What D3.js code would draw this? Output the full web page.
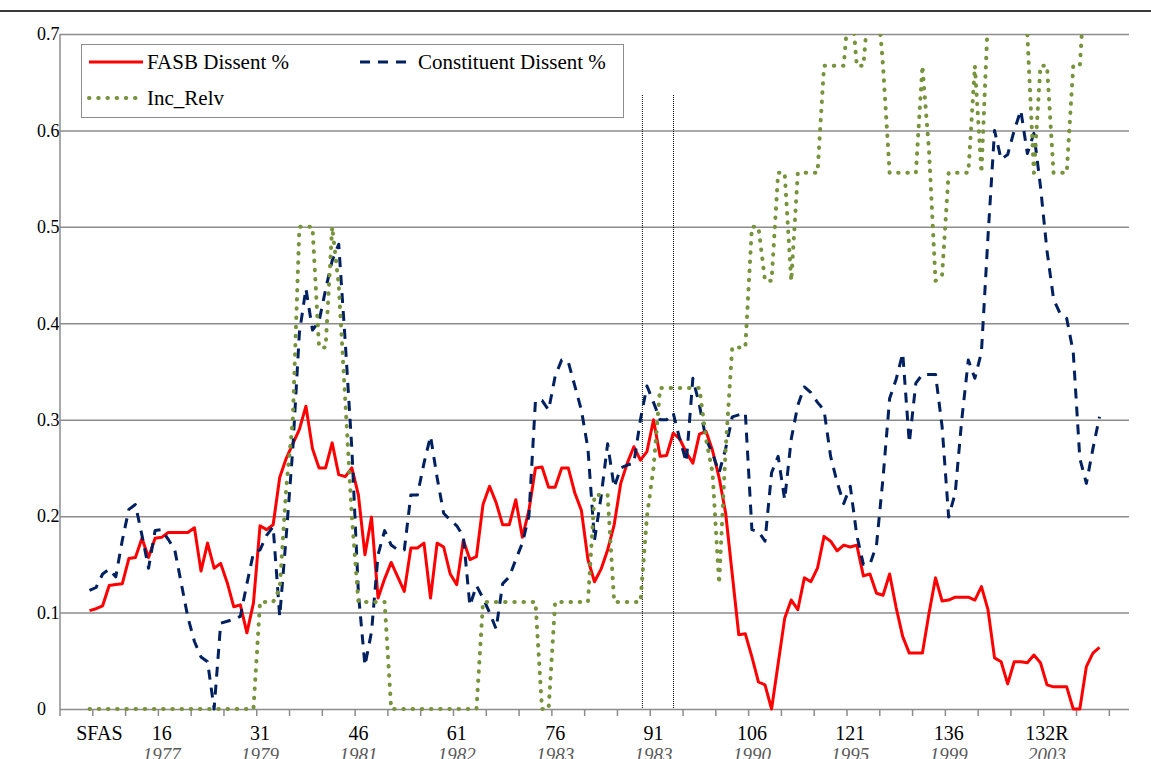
<!DOCTYPE html>
<meta charset="utf-8">
<head>
    <title>FASB and constituent dissent</title>
    <style>
        body { margin: 0; background: #fff; }
        svg text { font-family: "Liberation Serif", "Times New Roman", serif; }
    </style>
</head>
<body>
<svg width="1151" height="759"></svg>
<script src="https://d3js.org/d3.v7.min.js"></script>
<script>

    // series values, one per SFAS in order (first point sits on category 5)
    var fasbDissent = [
        0.102, 0.104, 0.107, 0.128, 0.129, 0.130, 0.156, 0.157, 0.177, 0.157,
        0.177, 0.178, 0.183, 0.183, 0.183, 0.183, 0.188, 0.143, 0.172, 0.146,
        0.151, 0.131, 0.106, 0.108, 0.079, 0.110, 0.190, 0.186, 0.191, 0.240,
        0.260, 0.275, 0.290, 0.314, 0.270, 0.250, 0.250, 0.276, 0.243, 0.241,
        0.250, 0.222, 0.160, 0.199, 0.115, 0.135, 0.152, 0.137, 0.122, 0.167,
        0.167, 0.172, 0.115, 0.172, 0.168, 0.140, 0.129, 0.175, 0.155, 0.158,
        0.212, 0.231, 0.214, 0.191, 0.191, 0.217, 0.178, 0.206, 0.250, 0.251,
        0.230, 0.230, 0.250, 0.250, 0.224, 0.206, 0.155, 0.132, 0.145, 0.165,
        0.191, 0.234, 0.255, 0.272, 0.258, 0.267, 0.300, 0.262, 0.263, 0.286,
        0.280, 0.266, 0.255, 0.285, 0.288, 0.268, 0.240, 0.203, 0.140, 0.077,
        0.078, 0.054, 0.028, 0.025, 0.000, 0.047, 0.094, 0.113, 0.103, 0.136,
        0.132, 0.146, 0.179, 0.174, 0.164, 0.170, 0.168, 0.170, 0.138, 0.140,
        0.120, 0.118, 0.140, 0.105, 0.075, 0.058, 0.058, 0.058, 0.099, 0.136,
        0.112, 0.113, 0.116, 0.116, 0.116, 0.113, 0.127, 0.103, 0.053, 0.049,
        0.026, 0.049, 0.049, 0.048, 0.056, 0.048, 0.025, 0.023, 0.023, 0.023,
        0.000, 0.000, 0.044, 0.058, 0.064
    ];

    var constituentDissent = [
        0.123, 0.126, 0.140, 0.145, 0.137, 0.175, 0.207, 0.212, 0.180, 0.146,
        0.185, 0.186, 0.176, 0.165, 0.130, 0.095, 0.070, 0.054, 0.049, 0.000,
        0.089, 0.091, 0.093, 0.096, 0.130, 0.162, 0.165, 0.180, 0.189, 0.096,
        0.180, 0.270, 0.390, 0.436, 0.393, 0.402, 0.435, 0.465, 0.482, 0.380,
        0.270, 0.120, 0.045, 0.080, 0.160, 0.185, 0.170, 0.165, 0.165, 0.222,
        0.222, 0.255, 0.283, 0.240, 0.203, 0.196, 0.190, 0.179, 0.107, 0.128,
        0.115, 0.100, 0.083, 0.130, 0.137, 0.155, 0.172, 0.200, 0.320, 0.320,
        0.310, 0.345, 0.362, 0.360, 0.335, 0.310, 0.270, 0.175, 0.220, 0.275,
        0.230, 0.250, 0.253, 0.255, 0.300, 0.335, 0.318, 0.300, 0.300, 0.307,
        0.280, 0.256, 0.343, 0.315, 0.280, 0.265, 0.245, 0.270, 0.303, 0.305,
        0.307, 0.186, 0.184, 0.174, 0.245, 0.262, 0.217, 0.280, 0.315, 0.334,
        0.328, 0.318, 0.310, 0.262, 0.235, 0.213, 0.231, 0.180, 0.150, 0.150,
        0.170, 0.240, 0.322, 0.342, 0.369, 0.276, 0.338, 0.347, 0.347, 0.347,
        0.293, 0.199, 0.224, 0.300, 0.362, 0.343, 0.370, 0.490, 0.600, 0.570,
        0.575, 0.600, 0.621, 0.576, 0.597, 0.542, 0.475, 0.425, 0.410, 0.405,
        0.370, 0.260, 0.234, 0.270, 0.303
    ];

    var incRelv = [
        0, 0, 0, 0, 0, 0, 0, 0, 0, 0,
        0, 0, 0, 0, 0, 0, 0, 0, 0, 0,
        0, 0, 0, 0, 0, 0, 0.111, 0.111, 0.111, 0.125,
        0.230, 0.300, 0.500, 0.500, 0.500, 0.375, 0.375, 0.500, 0.440, 0.320,
        0.200, 0.111, 0.111, 0.111, 0.111, 0.111, 0, 0, 0, 0,
        0, 0, 0, 0, 0, 0, 0, 0, 0, 0,
        0.111, 0.111, 0.111, 0.111, 0.111, 0.111, 0.111, 0.111, 0.111, 0,
        0, 0.111, 0.111, 0.111, 0.111, 0.111, 0.111, 0.222, 0.222, 0.222,
        0.111, 0.111, 0.111, 0.111, 0.111, 0.200, 0.250, 0.333, 0.333, 0.333,
        0.333, 0.333, 0.333, 0.333, 0.280, 0.245, 0.130, 0.270, 0.375, 0.375,
        0.375, 0.500, 0.500, 0.444, 0.444, 0.556, 0.556, 0.444, 0.556, 0.556,
        0.556, 0.556, 0.667, 0.667, 0.667, 0.667, 0.750, 0.667, 0.667, 0.750,
        0.750, 0.667, 0.556, 0.556, 0.556, 0.556, 0.556, 0.667, 0.580, 0.444,
        0.450, 0.556, 0.556, 0.556, 0.556, 0.667, 0.556, 0.720, 0.778, 0.778,
        0.778, 0.778, 0.778, 0.700, 0.556, 0.667, 0.667, 0.556, 0.556, 0.556,
        0.667, 0.667, 0.778, 0.778, 0.778
    ];

    // category axis: 163 slots, labels every 15 (positions in slot units)
    var firstCategory = 5;
    var categoryCount = 163;
    var tickLabelPos = [6, 15.5, 30.5, 45.5, 60.5, 75.5, 90.5, 105.5, 120.5, 135.5, 150.5];
    var tickNumbers = ["SFAS", "16", "31", "46", "61", "76", "91", "106", "121", "136", "132R"];
    var tickYears = ["", "1977", "1979", "1981", "1982", "1983", "1983", "1990", "1995", "1999", "2003"];
    var yTicks = [0, 0.1, 0.2, 0.3, 0.4, 0.5, 0.6, 0.7];
    // the two dotted marker lines, in slot units
    var markerSlots = [88.8, 93.55];

    var svg = d3.select("svg"),
            plotLeft = 60, plotRight = 1129, plotTop = 34, plotBottom = 709;

    var x = d3.scaleLinear().domain([0, categoryCount]).range([plotLeft, plotRight]);
    var y = d3.scaleLinear().domain([0, 0.7]).range([plotBottom, plotTop]);

    //chart frame top edge
    svg.append("line")
            .attr("x1", 0).attr("x2", 1151)
            .attr("y1", 11).attr("y2", 11)
            .attr("stroke", "#3a3a3a").attr("stroke-width", 2);

    //horizontal gridlines + y labels
    var yAxis = svg.append("g")
            .attr("transform", "translate(" + plotLeft + ",0)")
            .call(d3.axisLeft(y).tickValues(yTicks).tickSize(-(plotRight - plotLeft))
                    .tickPadding(0).tickFormat(d3.format("")));
    yAxis.select(".domain").remove();
    yAxis.selectAll(".tick line")
            .attr("stroke", "#8c8c8c").attr("stroke-width", 1.5);
    yAxis.selectAll(".tick text")
            .attr("x", -23)
            .attr("text-anchor", "start")
            .attr("fill", "#000")
            .style("font-family", "Liberation Serif")
            .style("font-size", "18px");

    //left axis line
    svg.append("line")
            .attr("x1", plotLeft).attr("x2", plotLeft)
            .attr("y1", plotTop).attr("y2", plotBottom)
            .attr("stroke", "#8c8c8c").attr("stroke-width", 1.5);

    //category ticks every 5 slots
    svg.append("g")
            .selectAll("line")
            .data(d3.range(0, categoryCount, 5))
            .enter().append("line")
            .attr("x1", function(d) { return x(d); })
            .attr("x2", function(d) { return x(d); })
            .attr("y1", plotBottom).attr("y2", plotBottom + 7)
            .attr("stroke", "#8c8c8c").attr("stroke-width", 1.5);

    //category labels
    var labels = svg.append("g").selectAll("g")
            .data(tickLabelPos)
            .enter().append("g");
    labels.append("text")
            .attr("x", function(d) { return x(d); })
            .attr("y", 740)
            .attr("text-anchor", "middle")
            .attr("font-size", "20px")
            .text(function(d, i) { return tickNumbers[i]; });
    labels.append("text")
            .attr("x", function(d) { return x(d); })
            .attr("y", 761)
            .attr("text-anchor", "middle")
            .attr("font-size", "19px")
            .attr("font-style", "italic")
            .attr("fill", "#595959")
            .text(function(d, i) { return tickYears[i]; });

    //dotted marker lines
    svg.append("g").selectAll("line")
            .data(markerSlots)
            .enter().append("line")
            .attr("x1", function(d) { return x(d); })
            .attr("x2", function(d) { return x(d); })
            .attr("y1", 95).attr("y2", plotBottom)
            .attr("stroke", "#000").attr("stroke-width", 1)
            .attr("stroke-dasharray", "1,1");

    //clip the series to the plot area
    svg.append("clipPath").attr("id", "plot")
            .append("rect")
            .attr("x", plotLeft).attr("y", plotTop)
            .attr("width", plotRight - plotLeft).attr("height", plotBottom - plotTop + 6);

    var line = d3.line()
            .x(function(d, i) { return x(firstCategory + i - 0.5); })
            .y(function(d) { return y(d); });

    var series = [
        {name: "FASB Dissent %", values: fasbDissent, color: "#ff0000", dash: null, width: 3},
        {name: "Constituent Dissent %", values: constituentDissent, color: "#002060", dash: "10,8", width: 3},
        {name: "Inc_Relv", values: incRelv, color: "#77933c", dash: "0.5,8.7", width: 4}
    ];

    var plot = svg.append("g").attr("clip-path", "url(#plot)");
    series.forEach(function(s) {
        plot.append("path")
                .datum(s.values)
                .attr("fill", "none")
                .attr("stroke", s.color)
                .attr("stroke-width", s.width)
                .attr("stroke-linejoin", "round")
                .attr("stroke-linecap", s.width === 4 ? "round" : "butt")
                .attr("stroke-dasharray", s.dash)
                .attr("d", line);
    });

    //legend
    var legend = svg.append("g");
    legend.append("rect")
            .attr("x", 81.5).attr("y", 44.5)
            .attr("width", 542).attr("height", 73)
            .attr("fill", "#fff")
            .attr("stroke", "#8c8c8c").attr("stroke-width", 1);

    var legendPos = [[89, 62], [360, 62], [89, 98]];
    series.forEach(function(s, i) {
        var p = legendPos[i];
        legend.append("line")
                .attr("x1", p[0]).attr("x2", p[0] + 54)
                .attr("y1", p[1]).attr("y2", p[1])
                .attr("stroke", s.color)
                .attr("stroke-width", s.width)
                .attr("stroke-linecap", s.width === 4 ? "round" : "butt")
                .attr("stroke-dasharray", s.dash);
        legend.append("text")
                .attr("x", p[0] + 58)
                .attr("y", p[1] + 7)
                .attr("font-size", "21px")
                .text(s.name);
    });

</script>
</body>
